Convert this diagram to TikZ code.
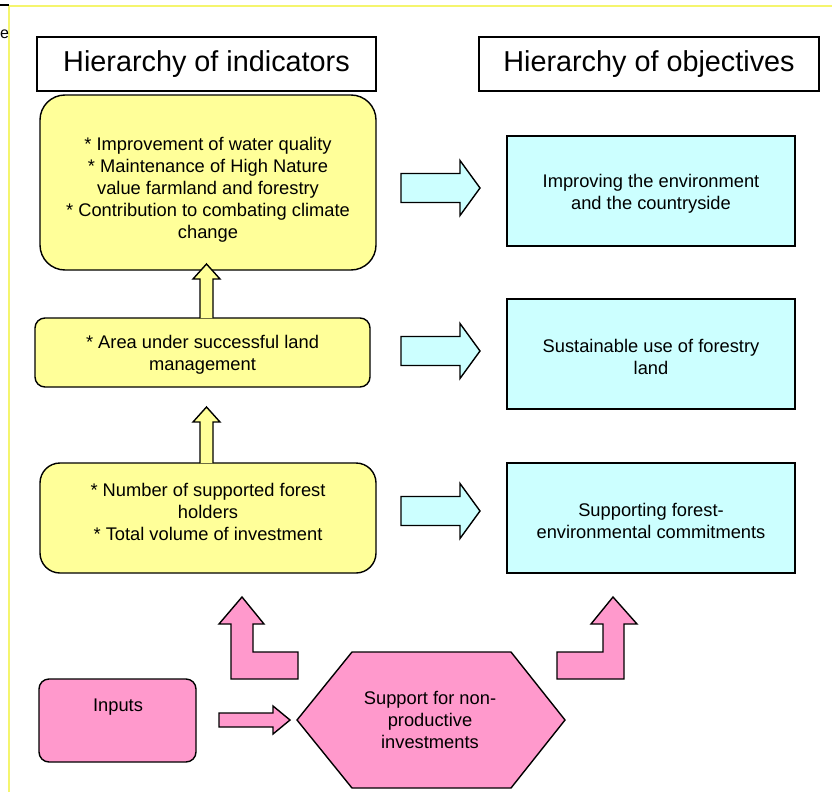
\documentclass[tikz,border=0pt]{standalone}
\usepackage{fontspec}
\setmainfont{Liberation Sans}
\usetikzlibrary{positioning}
\definecolor{indyellow}{HTML}{FFFF99}
\definecolor{objcyan}{HTML}{CCFFFF}
\definecolor{inpink}{HTML}{FF99CC}
\definecolor{framelime}{HTML}{F5F56E}
\begin{document}
\begin{tikzpicture}
[x=1pt,y=-1pt,
  titledecorate/.style={draw,line width=1.3pt,minimum height=54pt,
    font=\fontsize{28.8}{30}\selectfont},%
  inddecorate/.style={draw,line width=1.4pt,fill=indyellow,minimum width=336pt},%
  objdecorate/.style={draw,line width=1.4pt,fill=objcyan,minimum width=288pt,
    minimum height=110pt},%
  textdecorate/.style={align=center,font=\fontsize{18.3}{22}\selectfont},%
  blockdecorate/.style={draw,line width=1.4pt,line join=miter}]
\useasboundingbox (0,0) rectangle (832,792);
%% frame of the page
\draw[framelime,line width=1.6pt] (9,792) -- (9,6) -- (832,6);
\draw[line width=1.2pt] (0,5) -- (9,5);
\node[anchor=west,inner sep=0pt,font=\fontsize{16}{18}\selectfont] (cut) at (0,34) {e};
%% headings
\node (headind) at (206.5,64) [titledecorate,minimum width=339pt] {Hierarchy of indicators};
\node (headobj) at (649,64) [titledecorate,minimum width=340pt] {Hierarchy of objectives};
%% indicators
\node (ind1) at (208,182.5) [inddecorate,minimum height=175pt,rounded corners=25pt] {};
\node (ind2) at (202.5,352.5) [inddecorate,minimum width=335pt,minimum height=69pt,rounded corners=10pt] {};
\node (ind3) at (208,518) [inddecorate,minimum height=110pt,rounded corners=20pt] {};
\node (ind1text) at (208,190) [textdecorate] {* Improvement of water quality\\
  * Maintenance of High Nature\\ value farmland and forestry\\
  * Contribution to combating climate\\ change};
\node (ind2text) at (202.5,355) [textdecorate] {* Area under successful land\\ management};
\node (ind3text) at (208,512) [textdecorate] {* Number of supported forest\\ holders\\
  * Total volume of investment};
%% objectives
\foreach \nodename/\y/\txt in {
  obj1/191/{Improving the environment\\ and the countryside},
  obj2/354/{Sustainable use of forestry\\ land},
  obj3/518/{Supporting forest-\\ environmental commitments}} {
  \node (\nodename) at (651,\y) [objdecorate] {};
  \node (\nodename text) at (651,\y+3) [textdecorate] {\txt};
}
%% inputs and measure
\node (inputs) at (117.5,720.5) [draw,line width=1.4pt,fill=inpink,minimum width=157pt,
  minimum height=83pt,rounded corners=10pt] {};
\node (inputstext) at (118,707) [textdecorate] {Inputs};
\draw[blockdecorate,fill=inpink] (297,720) -- (352,652) -- (511,652) -- (565,720)
  -- (511,788) -- (352,788) -- cycle;
\node (measure) at (430,720) [textdecorate] {Support for non-\\ productive\\ investments};
%% block arrows
\foreach \c in {188,351,511} {
  \draw[blockdecorate,fill=objcyan] (401,\c-14.5) -- (460,\c-14.5) -- (460,\c-27.5)
    -- (480,\c) -- (460,\c+27.5) -- (460,\c+14.5) -- (401,\c+14.5) -- cycle;
}
\foreach \tip/\base in {264/318, 407/463} {
  \draw[blockdecorate,fill=indyellow] (200,\base) -- (200,\tip+15) -- (193,\tip+15)
    -- (206.5,\tip) -- (220,\tip+15) -- (213,\tip+15) -- (213,\base);
}
\draw[blockdecorate,fill=inpink] (219,713) -- (273,713) -- (273,706) -- (290,720)
  -- (273,734) -- (273,727) -- (219,727) -- cycle;
\draw[blockdecorate,fill=inpink] (231,679) -- (231,624) -- (219,624) -- (242,597)
  -- (264,624) -- (253,624) -- (253,652) -- (298,652) -- (298,679) -- cycle;
\draw[blockdecorate,fill=inpink] (557,652) -- (603,652) -- (603,624) -- (591,624)
  -- (613,597) -- (637,624) -- (624,624) -- (624,679) -- (557,679) -- cycle;
\end{tikzpicture}
\end{document}
